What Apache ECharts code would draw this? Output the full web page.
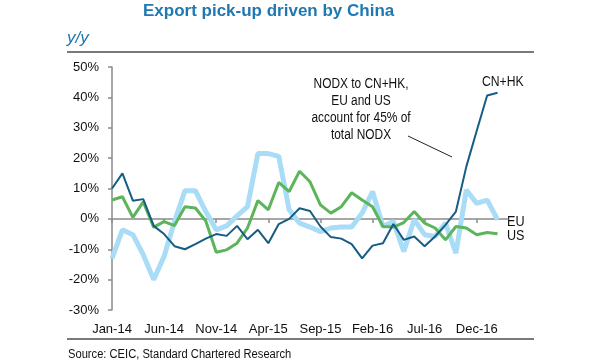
<!DOCTYPE html>
<html>
<head>
<meta charset="utf-8">
<script src="https://cdn.jsdelivr.net/npm/echarts@6/dist/echarts.min.js"></script>
<style>
html,body{margin:0;padding:0;background:#fff;}
#chart{width:600px;height:360px;}
</style>
</head>
<body>
<div id="chart"></div>
<script>
var months = ['Jan-14','Feb-14','Mar-14','Apr-14','May-14','Jun-14','Jul-14','Aug-14','Sep-14','Oct-14','Nov-14','Dec-14',
  'Jan-15','Feb-15','Mar-15','Apr-15','May-15','Jun-15','Jul-15','Aug-15','Sep-15','Oct-15','Nov-15','Dec-15',
  'Jan-16','Feb-16','Mar-16','Apr-16','May-16','Jun-16','Jul-16','Aug-16','Sep-16','Oct-16','Nov-16','Dec-16',
  'Jan-17','Feb-17','Mar-17'];
var cnhk = [10,15,6,6.5,-2.3,-5,-9,-10,-8.3,-6.5,-5,-5.6,-2.3,-6.7,-3.6,-8,-1.7,0,3.5,2.6,-2.5,-6,-6.5,-8.3,-13,-8.8,-8,-1.7,-6.9,-5.8,-9,-5.8,-2,2.4,17.2,29,40.6,41.5];
var eu = [-13,-3.6,-5.2,-11.8,-20,-12.3,-0.9,9.3,9.3,2.4,-3.6,-2.3,1,4,21.5,21.5,20.6,3,-1.4,-2.7,-4.2,-3,-2.7,-2.7,1.9,9,-2.5,-0.9,-10.7,-0.3,-5.2,-5.8,-1.4,-11.3,9.5,5.1,6.2,-0.3];
var us = [6.2,7.3,0.5,5.6,-2.7,-0.9,-2.2,4,3.6,-0.7,-11,-10.2,-8,-3,6,3,12,9,15.7,12.2,4.6,1.9,4,8.6,6.2,4,-2.5,-2.7,-1.2,2.4,-1.4,-3,-6.9,-2.5,-3,-5.2,-4.5,-4.9];
var yMin = -30, yMax = 50, yStep = 10;

var FONT = "'Liberation Sans',Arial,sans-serif";
var chart = echarts.init(document.getElementById('chart'), null, {renderer:'canvas'});
chart.setOption({
  animation:false,
  backgroundColor:'#fff',
  textStyle:{fontFamily:FONT},
  grid:{left:112, right:92, top:67, bottom:50},
  xAxis:[{
    type:'category', data:months, boundaryGap:false,
    axisLine:{onZero:true, lineStyle:{color:'#8a8a8a', width:1.5}},
    axisTick:{show:true, interval:4, length:4, lineStyle:{color:'#8a8a8a', width:1.5}},
    axisLabel:{show:false}, splitLine:{show:false}
  },{
    type:'category', data:months, boundaryGap:false, position:'bottom',
    axisLine:{show:false, onZero:false}, axisTick:{show:false},
    axisLabel:{interval:4, margin:13, color:'#111', fontSize:13, fontFamily:FONT},
    splitLine:{show:false}
  }],
  yAxis:{
    type:'value', min:yMin, max:yMax, interval:yStep,
    axisLine:{show:true, lineStyle:{color:'#8a8a8a', width:1.5}},
    axisTick:{show:true, length:4, lineStyle:{color:'#8a8a8a', width:1.5}},
    axisLabel:{formatter:'{value}%', margin:13, color:'#111', fontSize:13, fontFamily:FONT},
    splitLine:{show:false}
  },
  series:[
    {name:'EU', type:'line', data:eu, symbol:'none', lineStyle:{color:'#a9dcf6', width:5}, z:2},
    {name:'US', type:'line', data:us, symbol:'none', lineStyle:{color:'#5cb55a', width:3}, z:3},
    {name:'CN+HK', type:'line', data:cnhk, symbol:'none', lineStyle:{color:'#155d82', width:2}, z:4}
  ],
  graphic:[
    {type:'text', x:143, y:3, style:{text:'Export pick-up driven by China', fill:'#1f78b0', font:"bold 17px "+FONT}},
    {type:'text', x:67, y:30, style:{text:'y/y', fill:'#1f78b0', font:"italic 17px "+FONT}},
    {type:'line', shape:{x1:67, y1:52, x2:534, y2:52}, style:{stroke:'#7a7a7a', lineWidth:2}},
    {type:'line', shape:{x1:67, y1:339, x2:534, y2:339}, style:{stroke:'#7a7a7a', lineWidth:2}},
    {type:'text', x:68, y:349, scaleX:0.93, style:{text:'Source: CEIC, Standard Chartered Research', fill:'#111', font:"12px "+FONT}},
    {type:'text', x:361, y:76, scaleX:0.85, style:{text:'NODX to CN+HK,\nEU and US\naccount for 45% of\ntotal NODX', fill:'#111', font:"14px "+FONT, align:'center', lineHeight:17}},
    {type:'line', shape:{x1:408, y1:136, x2:452, y2:157}, style:{stroke:'#222', lineWidth:1}},
    {type:'text', x:482, y:75, scaleX:0.87, style:{text:'CN+HK', fill:'#111', font:"14px "+FONT}},
    {type:'text', x:507, y:215, scaleX:0.9, style:{text:'EU', fill:'#111', font:"14px "+FONT}},
    {type:'text', x:507, y:229, scaleX:0.9, style:{text:'US', fill:'#111', font:"14px "+FONT}}
  ]
});
</script>
</body>
</html>
